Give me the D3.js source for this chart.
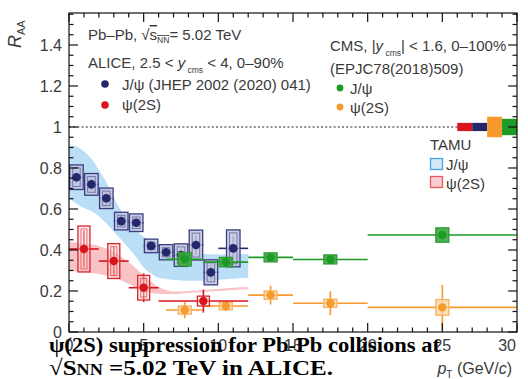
<!DOCTYPE html>
<html>
<head>
<meta charset="utf-8">
<script src="https://cdn.jsdelivr.net/npm/d3@7"></script>
<style>
  html, body { margin: 0; padding: 0; background: #fff; }
  svg { display: block; }
  .lbl { font-family: "Liberation Sans", Arial, sans-serif; fill: #3a3a3a; }
  .cap { font-family: "Liberation Serif", "Times New Roman", serif; font-weight: bold; fill: #000; }
</style>
</head>
<body>
<script>
// ALICE J/psi, 2.5 < y < 4, 0-90% (JHEP 02 (2020) 041)
const aliceJpsiLo   = [0, 1, 2, 3, 4, 5, 6, 7, 8, 9, 10];
const aliceJpsiHi   = [1, 2, 3, 4, 5, 6, 7, 8, 9, 10, 12];
const aliceJpsiRaa  = [0.755, 0.720, 0.652, 0.541, 0.533, 0.420, 0.389, 0.375, 0.424, 0.291, 0.408];
const aliceJpsiStat = [0.030, 0.030, 0.030, 0.025, 0.025, 0.020, 0.020, 0.030, 0.050, 0.040, 0.060];
const aliceJpsiSyst = [0.060, 0.053, 0.050, 0.043, 0.043, 0.033, 0.037, 0.055, 0.073, 0.061, 0.090];

// ALICE psi(2S)
const alicePsiLo   = [0, 2, 4, 6];
const alicePsiHi   = [2, 4, 6, 12];
const alicePsiRaa  = [0.405, 0.346, 0.216, 0.151];
const alicePsiStat = [0.090, 0.070, 0.070, 0.056];
const alicePsiSyst = [0.112, 0.085, 0.060, 0.024];

// CMS, |y| < 1.6, 0-100% (EPJC 78 (2018) 509)
const cmsLo = [6.5, 9, 12, 15, 20];
const cmsHi = [9, 12, 15, 20, 30];
const cmsJpsiRaa  = [0.355, 0.341, 0.364, 0.354, 0.473];
const cmsJpsiStat = [0.015, 0.012, 0.012, 0.012, 0.025];
const cmsJpsiSyst = [0.033, 0.023, 0.022, 0.022, 0.035];
const cmsPsiRaa   = [0.107, 0.127, 0.180, 0.140, 0.120];
const cmsPsiStat  = [0.040, 0.025, 0.046, 0.058, 0.110];
const cmsPsiSyst  = [0.020, 0.018, 0.020, 0.020, 0.038];

// TAMU transport model bands
const tamuJpsiPt   = [0, 0.5, 1, 1.5, 2, 2.5, 3, 3.5, 4, 4.5, 5, 5.5, 6, 7, 8, 9, 10, 11, 12];
const tamuJpsiLow  = [0.655, 0.625, 0.605, 0.590, 0.565, 0.530, 0.490, 0.450, 0.410, 0.365, 0.315, 0.285, 0.265, 0.255, 0.250, 0.250, 0.255, 0.260, 0.265];
const tamuJpsiHigh = [0.910, 0.905, 0.880, 0.845, 0.790, 0.730, 0.655, 0.590, 0.535, 0.495, 0.465, 0.445, 0.428, 0.405, 0.390, 0.380, 0.378, 0.380, 0.380];
const tamuPsiPt    = [0, 1, 2, 3, 4, 4.5, 5, 5.5, 6, 6.5, 7, 8, 9, 10, 11, 12];
const tamuPsiLow   = [0.300, 0.290, 0.283, 0.265, 0.235, 0.215, 0.200, 0.190, 0.186, 0.185, 0.185, 0.190, 0.195, 0.200, 0.205, 0.208];
const tamuPsiHigh  = [0.440, 0.430, 0.420, 0.390, 0.340, 0.310, 0.275, 0.245, 0.220, 0.205, 0.197, 0.200, 0.205, 0.210, 0.216, 0.220];

// global normalisation uncertainties at R_AA = 1 (ALICE psi(2S), ALICE J/psi, CMS psi(2S), CMS J/psi)
const globalUnc = [0.020, 0.020, 0.050, 0.040];

const xTicks = [0, 5, 10, 15, 20, 25, 30];
const yTicks = [0, 0.2, 0.4, 0.6, 0.8, 1, 1.2, 1.4];

const W = 528, H = 379;
const NAVY = "#25276b", RED = "#d8151d", GREEN = "#1e9a26", ORANGE = "#f79a2e";

const svg = d3.select("body").append("svg").attr("width", W).attr("height", H);

const x = d3.scaleLinear().domain([0, 30]).range([69, 517]);
const y = d3.scaleLinear().domain([0, 1.556]).range([332, 13]);
const [x0, x1] = x.range(), [y0, y1] = y.range();

const plot = svg.append("g");
svg.append("clipPath").attr("id", "pc").append("rect")
  .attr("x", x0).attr("y", y1).attr("width", x1 - x0).attr("height", y0 - y1);
const inner = plot.append("g").attr("clip-path", "url(#pc)");

// model bands
function band(pts, lo, hi, fill) {
  const rows = pts.map((p, i) => ({ p, lo: lo[i], hi: hi[i] }));
  inner.append("path").datum(rows)
    .attr("d", d3.area().x(d => x(d.p)).y0(d => y(d.lo)).y1(d => y(d.hi)).curve(d3.curveMonotoneX))
    .attr("fill", fill);
}
band(tamuJpsiPt, tamuJpsiLow, tamuJpsiHigh, "#b9def6");
band(tamuPsiPt, tamuPsiLow, tamuPsiHigh, "#f9c3c5");

// unity reference line
const gx0 = 26;
inner.append("line").attr("x1", x0).attr("x2", x(gx0)).attr("y1", y(1)).attr("y2", y(1))
  .attr("stroke", "#222").attr("stroke-width", 1.2).attr("stroke-dasharray", "2,2.2");

// global uncertainty boxes
const gColors = [RED, NAVY, ORANGE, GREEN];
globalUnc.forEach((u, i) => {
  inner.append("rect").attr("x", x(gx0 + i)).attr("width", x(gx0 + i + 1) - x(gx0 + i))
    .attr("y", y(1 + u)).attr("height", y(1 - u) - y(1 + u)).attr("fill", gColors[i]);
});

// one data series: systematic boxes, stat bars, markers
function series(lo, hi, raa, stat, syst, o) {
  const g = inner.append("g");
  raa.forEach((v, i) => {
    const c = (lo[i] + hi[i]) / 2;
    const bx = x(c) - o.boxW / 2;
    const top = y(v + syst[i]), bot = y(v - syst[i]);
    g.append("line").attr("x1", x(lo[i])).attr("x2", x(hi[i])).attr("y1", y(v)).attr("y2", y(v))
      .attr("stroke", o.color).attr("stroke-width", o.barW);
    g.append("line").attr("x1", x(c)).attr("x2", x(c)).attr("y1", y(v + stat[i])).attr("y2", y(v - stat[i]))
      .attr("stroke", o.color).attr("stroke-width", o.barW);
    g.append("rect").attr("x", bx).attr("y", top).attr("width", o.boxW).attr("height", bot - top)
      .attr("fill", o.boxFill).attr("fill-opacity", o.boxOpacity).attr("stroke", o.boxStroke).attr("stroke-width", 1.3);
    if (o.inner) {
      g.append("rect").attr("x", bx + 3).attr("y", top + 3).attr("width", o.boxW - 6)
        .attr("height", Math.max(0, bot - top - 6))
        .attr("fill", "none").attr("stroke", o.boxStroke).attr("stroke-opacity", 0.6).attr("stroke-width", 1);
    }
    g.append("circle").attr("cx", x(c)).attr("cy", y(v)).attr("r", o.r).attr("fill", o.color);
  });
}

series(aliceJpsiLo, aliceJpsiHi, aliceJpsiRaa, aliceJpsiStat, aliceJpsiSyst,
  { color: NAVY, boxW: 13.5, boxFill: "#c3c6de", boxOpacity: 0.85, boxStroke: "#3b3e80", r: 4.3, barW: 1.6, inner: true });
series(cmsLo, cmsHi, cmsPsiRaa, cmsPsiStat, cmsPsiSyst,
  { color: ORANGE, boxW: 13, boxFill: "#fdd6a6", boxOpacity: 0.8, boxStroke: "#f7b060", r: 4.2, barW: 1.6, inner: false });
series(cmsLo, cmsHi, cmsJpsiRaa, cmsJpsiStat, cmsJpsiSyst,
  { color: GREEN, boxW: 13, boxFill: "#3aa83e", boxOpacity: 0.9, boxStroke: "#2f9a33", r: 4.2, barW: 1.6, inner: false });
series(alicePsiLo, alicePsiHi, alicePsiRaa, alicePsiStat, alicePsiSyst,
  { color: RED, boxW: 12, boxFill: "#fbd3d4", boxOpacity: 0.5, boxStroke: "#d8252b", r: 4.2, barW: 1.6, inner: true });

// frame and ticks (ROOT style, ticks pointing inward on all four sides)
const axes = svg.append("g").attr("stroke", "#111").attr("stroke-width", 1.2);
axes.append("rect").attr("x", x0).attr("y", y1).attr("width", x1 - x0).attr("height", y0 - y1).attr("fill", "none");
d3.range(0, 30.01, 1).forEach(t => {
  const len = t % 5 === 0 ? 9 : 4.5, px = x(t);
  axes.append("line").attr("x1", px).attr("x2", px).attr("y1", y0).attr("y2", y0 - len);
  axes.append("line").attr("x1", px).attr("x2", px).attr("y1", y1).attr("y2", y1 + len);
});
d3.range(0, 1.556, 0.05).forEach(t => {
  const major = Math.abs(t / 0.2 - Math.round(t / 0.2)) < 1e-6;
  const len = major ? 9 : 4.5, py = y(t);
  axes.append("line").attr("x1", x0).attr("x2", x0 + len).attr("y1", py).attr("y2", py);
  axes.append("line").attr("x1", x1).attr("x2", x1 - len).attr("y1", py).attr("y2", py);
});

// tick labels
const tl = svg.append("g").attr("class", "lbl").style("font-size", "16px");
yTicks.forEach(t => {
  tl.append("text").attr("x", 62).attr("y", y(t)).attr("dy", "0.36em").attr("text-anchor", "end")
    .text(d3.format("~g")(t));
});
xTicks.forEach(t => {
  tl.append("text").attr("x", t === 30 ? x(t) - 1 : x(t)).attr("y", 351)
    .attr("text-anchor", t === 30 ? "end" : "middle").text(t);
});

// axis titles
const yt = svg.append("text").attr("class", "lbl").attr("transform", "translate(21,48) rotate(-90)")
  .style("font-size", "18px");
yt.append("tspan").style("font-style", "italic").text("R");
yt.append("tspan").style("font-size", "11px").attr("dy", 4).text("AA");

const xt = svg.append("text").attr("class", "lbl").attr("x", 512).attr("y", 374)
  .attr("text-anchor", "end").style("font-size", "16px");
xt.append("tspan").style("font-style", "italic").text("p");
xt.append("tspan").style("font-size", "10px").attr("dy", 4).text("T");
xt.append("tspan").attr("dy", -4).text(" (GeV/");
xt.append("tspan").style("font-style", "italic").text("c");
xt.append("tspan").text(")");

// legend text
const leg = svg.append("g").attr("class", "lbl").style("font-size", "15px");
const t1 = leg.append("text").attr("x", 88).attr("y", 40);
t1.append("tspan").text("Pb–Pb, √");
t1.append("tspan").style("text-decoration", "overline").text("s");
t1.append("tspan").style("font-size", "8.5px").style("text-decoration", "overline").attr("dy", 3).text("NN");
t1.append("tspan").attr("dy", -3).text("= 5.02 TeV");

const t2 = leg.append("text").attr("x", 88).attr("y", 68);
t2.append("tspan").text("ALICE, 2.5 < ");
t2.append("tspan").style("font-style", "italic").text("y");
t2.append("tspan").style("font-size", "8.5px").attr("dy", 5).text(" cms");
t2.append("tspan").attr("dy", -5).text("  < 4, 0–90%");

leg.append("circle").attr("cx", 105).attr("cy", 84).attr("r", 3.8).attr("fill", NAVY);
leg.append("text").attr("x", 122).attr("y", 90).text("J/ψ (JHEP 2002 (2020) 041)");
leg.append("circle").attr("cx", 105).attr("cy", 105).attr("r", 3.8).attr("fill", RED);
leg.append("text").attr("x", 122).attr("y", 110).text("ψ(2S)");

const t3 = leg.append("text").attr("x", 330).attr("y", 51);
t3.append("tspan").text("CMS, |");
t3.append("tspan").style("font-style", "italic").text("y");
t3.append("tspan").style("font-size", "8.5px").attr("dy", 5).text(" cms");
t3.append("tspan").attr("dy", -5).text("| < 1.6, 0–100%");
leg.append("text").attr("x", 330).attr("y", 74).text("(EPJC78(2018)509)");
leg.append("circle").attr("cx", 340).attr("cy", 88).attr("r", 3.4).attr("fill", GREEN);
leg.append("text").attr("x", 350).attr("y", 94).text("J/ψ");
leg.append("circle").attr("cx", 340).attr("cy", 107).attr("r", 3.4).attr("fill", ORANGE);
leg.append("text").attr("x", 350).attr("y", 113).text("ψ(2S)");

leg.append("text").attr("x", 430).attr("y", 150).text("TAMU");
leg.append("rect").attr("x", 430.5).attr("y", 158.5).attr("width", 12).attr("height", 11)
  .attr("fill", "#d2e9fb").attr("stroke", "#4aa3e6").attr("stroke-width", 1.3);
leg.append("text").attr("x", 446).attr("y", 170).text("J/ψ");
leg.append("rect").attr("x", 430.5).attr("y", 176.5).attr("width", 12).attr("height", 11)
  .attr("fill", "#f9cdcf").attr("stroke", "#e8585e").attr("stroke-width", 1.3);
leg.append("text").attr("x", 446).attr("y", 189).text("ψ(2S)");

// caption
const cap = svg.append("g").attr("class", "cap").style("font-size", "22px");
cap.append("text").attr("x", 49).attr("y", 352).attr("textLength", 391).attr("lengthAdjust", "spacingAndGlyphs")
  .text("ψ(2S) suppression for Pb-Pb collisions at");
const c2 = cap.append("text").attr("x", 49).attr("y", 375).attr("textLength", 284).attr("lengthAdjust", "spacingAndGlyphs");
c2.append("tspan").text("√S");
c2.append("tspan").style("font-size", "16px").text("NN");
c2.append("tspan").text(" =5.02 TeV in ALICE.");
</script>
</body>
</html>
